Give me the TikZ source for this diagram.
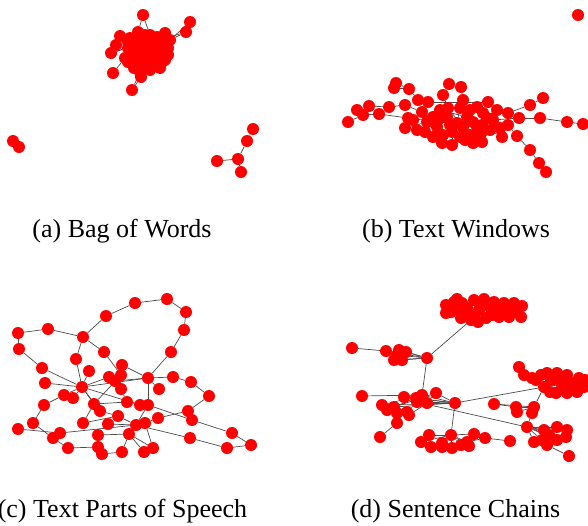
\documentclass[tikz,border=0pt]{standalone}
\usepackage{fontspec}
\setmainfont{Liberation Serif}
\pgfdeclarelayer{edges}
\pgfsetlayers{edges,main}
\tikzset{
  dotnode/.style={circle, fill=red, draw=none, inner sep=0pt, minimum size=12pt},
  edgeline/.style={draw=black!70, line width=0.7pt},
  caption/.style={anchor=base, inner sep=0pt, font=\fontsize{26}{30}\selectfont}
}
\begin{document}
\begin{tikzpicture}[x=1pt,y=-1pt]
\useasboundingbox (0,0) rectangle (588,525);
% ---------- nodes ----------
\foreach \n/\x/\y in {
A1/143/15, A2/190/22, A3/186/32, A4/120/36, A5/116/45, A6/111/53, A7/113/73, A8/132/90, A9/141/77, A10/130/38,
A11/138/32, A12/150/35, A13/165/33, A14/170/40, A15/128/48, A16/135/45, A17/145/42, A18/155/45, A19/162/48, A20/168/55,
A21/125/58, A22/133/58, A23/140/55, A24/150/55, A25/158/58, A26/165/60, A27/128/62, A28/137/65, A29/147/63, A30/155/66,
A31/162/62, A32/140/72, A33/150/70, A34/143/50, A35/152/50, A36/160/40, A37/134/68,
A45/128/42, A46/145/35, A47/157/37, A48/147/47, A49/130/53, A50/158/52, A51/145/58, A52/137/60, A53/153/60, A54/165/47,
A55/143/67, A56/160/68, A57/132/50, A58/168/48, A59/138/40, A60/152/42,
A38/13/141, A39/19/147, A40/253/129, A41/247/141, A42/238/159, A43/217/161, A44/241/172}
  \node[dotnode] (\n) at (\x,\y) {};
\foreach \n/\x/\y in {
B1/348/122, B2/357/110, B3/363/115, B4/369/106, B5/379/114, B6/389/107, B7/396/83, B8/394/88, B9/409/89, B10/405/105,
B11/408/118, B12/405/128, B13/418/100, B14/428/102, B15/449/84, B16/461/87, B17/443/95, B18/488/102, B19/508/113, B20/519/118,
B21/508/125, B22/530/105, B23/543/98, B24/540/118, B25/567/122, B26/583/124, B27/502/137, B28/517/136, B29/530/150, B30/539/163,
B31/546/172, B32/442/143, B33/452/145, B34/473/143, B35/482/142, B36/422/112, B37/427/122, B38/425/132, B39/437/127, B40/447/117,
B41/448/108, B42/460/108, B43/463/100, B44/470/110, B45/477/107, B46/483/113, B47/493/120, B48/490/130, B49/480/135, B50/470/135,
B51/463/127, B52/457/123, B53/473/122, B54/467/117, B55/452/132, B56/443/135, B57/433/137, B58/417/130, B59/413/120, B60/482/125,
B61/497/110, B62/460/137, B63/477/127, B64/440/110, B65/433/117, B66/578/15,
B67/487/118, B68/500/128, B69/465/140, B70/450/125, B71/438/120}
  \node[dotnode] (\n) at (\x,\y) {};
\foreach \n/\x/\y in {
C1/135/303, C2/167/299, C3/186/312, C4/184/330, C5/171/352, C6/106/316, C7/83/337, C8/48/329, C9/18/333, C10/19/349,
C11/42/368, C12/76/359, C13/104/352, C14/82/387, C15/45/383, C16/89/371, C17/122/365, C18/109/377, C19/121/375, C20/115/381,
C21/148/378, C22/173/377, C23/191/382, C24/209/396, C25/159/389, C26/121/389, C27/64/395, C28/73/398, C29/44/405, C30/94/404,
C31/100/411, C32/127/402, C33/140/405, C34/148/405, C35/118/416, C36/188/411, C37/192/420, C38/158/418, C39/33/423, C40/18/429,
C41/83/423, C42/108/424, C43/136/425, C44/145/423, C45/53/438, C46/60/433, C47/98/435, C48/129/434, C49/190/438, C50/232/433,
C51/251/445, C52/227/448, C53/68/448, C54/98/447, C55/102/454, C56/122/452, C57/144/452, C58/153/448}
  \node[dotnode] (\n) at (\x,\y) {};
\foreach \n/\x/\y in {
D1/446/305, D2/454/302, D3/462/303, D4/474/300, D5/484/299, D6/494/302, D7/504/303, D8/514/303, D9/522/306, D10/446/313,
D11/461/318, D12/474/317, D13/486/318, D14/499/317, D15/509/317, D16/521/317, D17/451/312, D18/467/308, D19/479/310, D20/491/309,
D21/502/310, D22/511/310, D23/471/320, D24/427/358, D25/352/348, D26/386/351, D27/394/360, D28/399/350, D29/402/360, D30/406/352,
D31/397/355, D32/362/396, D33/404/397, D34/416/398, D35/422/395, D36/436/393, D37/427/403, D38/417/402, D39/382/405, D40/387/410,
D41/394/407, D42/397/413, D43/409/415, D44/407/412, D45/397/423, D46/380/437, D47/455/403,
D49/519/367, D50/524/375, D51/532/378, D52/541/375, D53/547/373, D54/557/373, D55/567/375, D56/579/378, D57/584/387, D58/577/392,
D59/567/393, D60/556/393, D61/544/387, D62/536/380, D63/561/383, D64/571/383,
D65/494/404, D66/516/407, D67/517/412, D68/534/407, D69/532/413,
D70/527/427, D71/534/442, D72/542/440, D73/547/445, D74/557/427, D75/567/430, D76/566/437, D77/557/440, D78/549/435, D79/544/430,
D80/569/456, D81/429/435, D82/421/442, D83/431/447, D84/442/443, D85/451/435, D86/452/448, D87/461/445, D88/467/442, D89/474/434,
D90/469/446, D91/442/447, D92/485/438, D93/510/441,
D94/457/310, D95/483/305, D96/497/306, D97/516/311, D98/457/299, D99/468/314, D100/492/315, D101/478/322,
D102/551/380, D103/563/388, D104/574/387, D105/585/380, D106/550/392}
  \node[dotnode] (\n) at (\x,\y) {};
% ---------- connectors ----------
\begin{pgfonlayer}{edges}
\foreach \u/\v in {A1/A11, A1/A12, A2/A14, A3/A14, A3/A36, A4/A10, A5/A15, A6/A15, A6/A16, A7/A21, A8/A9, A8/A32, A9/A28,
  A10/A17, A11/A17, A12/A18, A38/A39, A40/A41, A41/A42, A42/A43, A42/A44}
  \draw[edgeline] (\u) -- (\v);
\foreach \u/\v in {B1/B3, B2/B4, B4/B6, B6/B10, B3/B5, B5/B11, B7/B9, B8/B9, B9/B13, B13/B14, B14/B18, B15/B17, B16/B43,
  B17/B41, B18/B19, B19/B22, B22/B23, B20/B24, B24/B25, B25/B26, B21/B28, B28/B29, B29/B30, B30/B31, B12/B37, B11/B38,
  B10/B36, B36/B52, B37/B53, B38/B55, B41/B51, B42/B52, B52/B62, B32/B56, B33/B55, B34/B49, B35/B48, B47/B20, B46/B19,
  B60/B21, B27/B48, B64/B54, B65/B51, B59/B40, B58/B39, B44/B63, B12/B58}
  \draw[edgeline] (\u) -- (\v);
\foreach \u/\v in {C1/C2, C2/C3, C3/C4, C4/C5, C5/C21, C1/C6, C6/C7, C7/C8, C8/C9, C9/C10, C10/C11, C11/C14, C7/C12,
  C12/C14, C7/C13, C13/C19, C15/C14, C16/C14, C14/C18, C14/C21, C14/C30, C14/C33, C17/C21, C17/C19, C21/C22, C22/C23,
  C23/C24, C24/C36, C36/C38, C21/C25, C21/C34, C27/C28, C27/C29, C29/C39, C39/C45, C40/C46, C45/C53, C53/C54, C54/C55,
  C55/C56, C48/C57, C48/C58, C48/C56, C47/C48, C46/C43, C41/C30, C30/C32, C31/C35, C30/C19, C42/C43, C43/C34, C34/C37,
  C37/C50, C50/C51, C51/C52, C52/C49, C49/C43, C38/C44, C44/C58, C14/C27, C14/C28, C14/C31, C18/C19, C20/C21, C41/C35,
  C32/C26, C32/C34, C35/C43}
  \draw[edgeline] (\u) -- (\v);
\foreach \u/\v in {D23/D24, D23/D1, D23/D3, D23/D5, D23/D7, D23/D9, D23/D12, D23/D14, D23/D16, D17/D9, D10/D16, D1/D9,
  D25/D26, D24/D26, D24/D27, D24/D28, D24/D29, D24/D30, D24/D31, D24/D35, D32/D35,
  D47/D35, D47/D34, D47/D36, D47/D37, D47/D33, D47/D38, D47/D39, D47/D41, D47/D61, D47/D85, D38/D70,
  D45/D46, D45/D42, D39/D35, D40/D34, D41/D36, D43/D37, D44/D38,
  D61/D55, D61/D56, D61/D57, D61/D58, D61/D59, D61/D60, D61/D63, D61/D64, D61/D49, D61/D50, D61/D54, D61/D68,
  D65/D66, D65/D68, D66/D68, D67/D68, D69/D68, D69/D70,
  D70/D74, D70/D75, D70/D76, D70/D77, D70/D78, D70/D79, D70/D72, D70/D71, D73/D80,
  D85/D81, D85/D82, D85/D83, D85/D84, D85/D86, D85/D87, D85/D88, D85/D89, D85/D90, D85/D91, D88/D92, D92/D93}
  \draw[edgeline] (\u) -- (\v);
\end{pgfonlayer}
% ---------- captions ----------
\node[caption] (capa) at (122,237) {(a) Bag of Words};
\node[caption] (capb) at (456,237) {(b) Text Windows};
\node[caption] (capc) at (122.5,517) {(c) Text Parts of Speech};
\node[caption] (capd) at (455.5,517) {(d) Sentence Chains};
\end{tikzpicture}
\end{document}
